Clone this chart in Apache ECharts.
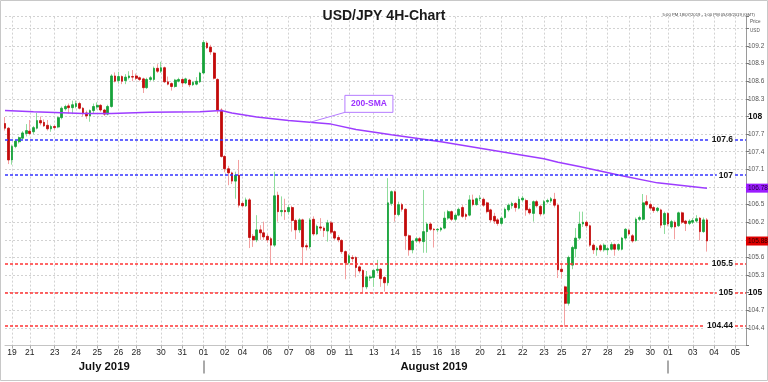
<!DOCTYPE html>
<html><head><meta charset="utf-8">
<script src="https://cdn.jsdelivr.net/npm/echarts@6/dist/echarts.min.js"></script>
<style>html,body{margin:0;padding:0;background:#fff}#c{width:768px;height:382px}</style>
</head><body><div id="c"></div>
<script>
// ---------------- data ----------------
const titleText = 'USD/JPY 4H-Chart';
const rangeText = '5:00 PM 18/07/2019 - 1:00 PM 05/09/2019 (GMT)';
const firstDayHours = [17, 21];
const lastDayHours = [1, 5, 9, 13];
const weekdayHours = [1, 5, 9, 13, 17, 21];
const fridayHours = [1, 5, 9, 13, 17];
const sundayHours = [21];
const tickDates = ['07-19','07-21','07-23','07-24','07-25','07-26','07-28','07-30','07-31','08-01','08-02','08-04','08-06','08-07','08-08','08-09','08-11','08-13','08-14','08-15','08-16','08-18','08-20','08-21','08-22','08-23','08-25','08-27','08-28','08-29','08-30','09-01','09-03','09-04','09-05'];
const monthNames = {'07': 'July 2019', '08': 'August 2019'};
const hiddenYLabels = [104.1, 105.9, 106.8, 109.5, 109.7];
const boldYLabels = [108, 105];
// [open, close, low, high]
const candles = [
[107.88,107.80,107.76,107.99],[107.80,107.26,107.19,107.82],[107.26,107.49,107.18,107.52],[107.49,107.58,107.46,107.60],
[107.57,107.64,107.54,107.66],[107.63,107.72,107.60,107.75],[107.71,107.76,107.66,107.87],[107.75,107.71,107.68,107.94],
[107.74,107.81,107.70,107.84],[107.80,107.93,107.78,108.06],[107.93,107.89,107.85,108.00],[107.90,107.84,107.82,107.95],
[107.85,107.79,107.76,107.94],[107.79,107.83,107.74,107.86],[107.83,107.81,107.78,107.86],[107.82,107.98,107.80,108.00],
[107.98,108.14,107.95,108.17],[108.13,108.17,108.10,108.20],[108.18,108.15,108.05,108.22],[108.15,108.20,108.04,108.27],
[108.17,108.22,108.14,108.27],[108.22,108.14,108.12,108.25],[108.14,108.05,108.00,108.16],[108.06,108.01,107.96,108.10],
[108.01,108.10,107.91,108.12],[108.10,108.17,108.06,108.22],[108.16,108.19,108.12,108.24],[108.19,108.11,108.08,108.21],
[108.11,108.04,108.01,108.13],[108.04,108.17,108.02,108.20],[108.17,108.69,108.15,108.72],[108.69,108.60,108.58,108.75],
[108.61,108.68,108.56,108.76],[108.68,108.60,108.55,108.70],[108.61,108.67,108.55,108.72],[108.66,108.69,108.63,108.77],
[108.68,108.67,108.60,108.79],[108.69,108.65,108.62,108.73],[108.66,108.63,108.60,108.68],[108.64,108.49,108.40,108.66],
[108.49,108.63,108.47,108.66],[108.63,108.66,108.60,108.69],[108.63,108.82,108.60,108.85],[108.82,108.77,108.74,108.89],
[108.77,108.83,108.74,108.93],[108.83,108.59,108.57,108.85],[108.59,108.55,108.53,108.68],[108.56,108.51,108.44,108.58],
[108.51,108.62,108.49,108.64],[108.60,108.63,108.58,108.66],[108.63,108.57,108.50,108.65],[108.57,108.64,108.55,108.66],
[108.62,108.54,108.50,108.64],[108.54,108.58,108.52,108.60],[108.55,108.60,108.53,108.67],[108.59,108.74,108.57,108.76],
[108.74,109.26,108.72,109.30],[109.25,109.17,109.15,109.28],[109.18,109.10,109.05,109.22],[109.08,108.65,108.63,109.10],
[108.63,108.11,108.05,108.65],[108.11,107.32,107.30,108.14],[107.32,107.11,107.05,107.34],[107.11,107.04,106.83,107.16],
[107.04,106.90,106.85,107.06],[106.90,107.00,106.60,107.06],[107.00,106.49,106.45,107.26],[106.52,106.48,106.45,106.55],
[106.48,106.58,106.46,106.62],[106.58,105.94,105.76,106.61],[105.96,105.90,105.78,106.00],[105.90,106.07,105.86,106.32],
[106.07,106.02,105.90,106.15],[106.02,105.95,105.90,106.21],[105.96,105.90,105.85,106.00],[105.92,105.81,105.50,105.95],
[105.81,106.65,105.78,107.06],[106.66,106.38,106.21,106.72],[106.38,106.40,106.30,106.64],[106.40,106.38,106.24,106.60],
[106.38,106.45,106.33,106.50],[106.45,106.23,106.04,106.48],[106.23,106.07,105.91,106.26],[106.07,106.24,106.02,106.27],
[106.24,105.78,105.47,106.26],[105.80,105.78,105.72,105.84],[105.78,106.24,105.75,106.27],[106.25,106.00,105.97,106.30],
[106.00,106.13,105.98,106.16],[106.12,106.10,106.05,106.27],[106.10,106.06,105.95,106.13],[106.05,106.19,105.87,106.24],
[106.19,106.03,106.00,106.22],[106.04,105.93,105.90,106.06],[105.94,105.90,105.86,105.98],[105.89,105.70,105.66,105.91],
[105.70,105.51,105.23,105.72],[105.51,105.63,105.48,105.66],[105.60,105.58,105.52,105.64],[105.60,105.43,105.26,105.62],
[105.44,105.37,105.33,105.46],[105.38,105.10,105.00,105.40],[105.10,105.27,105.06,105.37],[105.25,105.27,105.20,105.30],
[105.26,105.38,105.10,105.40],[105.38,105.40,105.33,105.56],[105.40,105.24,105.10,105.42],[105.26,105.17,105.02,105.28],
[105.17,106.53,105.12,106.95],[106.52,106.72,106.48,106.74],[106.72,106.33,106.21,106.74],[106.33,106.50,106.30,106.55],
[106.50,106.42,106.38,106.53],[106.42,105.97,105.73,106.44],[105.97,105.73,105.63,105.99],[105.73,105.88,105.67,105.90],
[105.88,105.92,105.85,105.95],[105.92,105.88,105.84,105.95],[105.87,106.04,105.68,106.75],[106.04,106.17,105.68,106.20],
[106.17,106.08,106.05,106.20],[106.08,106.07,105.77,106.10],[106.07,106.08,106.03,106.10],[106.07,106.10,106.04,106.12],
[106.10,106.27,106.08,106.38],[106.27,106.38,106.24,106.41],[106.38,106.25,106.22,106.40],[106.25,106.32,106.22,106.35],
[106.32,106.42,106.30,106.45],[106.45,106.30,106.27,106.49],[106.33,106.30,106.24,106.36],[106.32,106.58,106.30,106.66],
[106.58,106.50,106.47,106.67],[106.50,106.60,106.48,106.62],[106.60,106.61,106.56,106.66],[106.59,106.49,106.46,106.62],
[106.53,106.38,106.35,106.55],[106.41,106.24,106.20,106.43],[106.30,106.22,106.17,106.36],[106.24,106.18,106.14,106.27],
[106.18,106.27,106.15,106.30],[106.28,106.42,106.26,106.45],[106.41,106.49,106.38,106.52],[106.48,106.52,106.43,106.55],
[106.52,106.45,106.38,106.54],[106.44,106.59,106.42,106.64],[106.58,106.61,106.55,106.65],[106.57,106.41,106.31,106.60],
[106.42,106.36,106.33,106.45],[106.35,106.55,106.21,106.57],[106.55,106.48,106.45,106.58],[106.47,106.34,106.30,106.50],
[106.35,106.55,106.32,106.58],[106.55,106.57,106.52,106.60],[106.56,106.60,106.53,106.63],[106.59,106.49,106.45,106.70],
[106.49,105.39,105.25,106.52],[105.40,105.36,105.24,105.50],[105.10,104.82,104.42,105.12],[104.82,105.60,104.78,105.63],
[105.47,105.77,105.40,105.80],[105.75,105.93,105.60,106.10],[105.93,106.17,105.90,106.38],[106.17,106.20,106.12,106.38],
[106.20,106.14,106.10,106.23],[106.14,105.81,105.78,106.16],[105.81,105.73,105.66,105.84],[105.73,105.76,105.63,105.79],
[105.80,105.73,105.70,105.83],[105.73,105.81,105.70,105.84],[105.73,105.75,105.64,105.78],[105.74,105.82,105.72,105.86],
[105.82,105.74,105.63,105.84],[105.74,105.82,105.71,105.84],[105.74,105.93,105.72,105.95],[105.93,106.08,105.90,106.10],
[106.06,106.00,105.97,106.09],[105.97,105.88,105.85,106.00],[105.89,106.25,105.87,106.28],[106.25,106.28,106.22,106.31],
[106.25,106.53,106.23,106.68],[106.55,106.50,106.47,106.66],[106.50,106.44,106.40,106.53],[106.45,106.40,106.36,106.48],
[106.40,106.44,106.37,106.46],[106.41,106.15,106.10,106.43],[106.16,106.35,106.00,106.38],[106.35,106.17,106.13,106.37],
[106.12,106.21,106.09,106.24],[106.20,106.12,105.91,106.23],[106.14,106.36,106.12,106.38],[106.36,106.20,106.17,106.38],
[106.22,106.18,106.05,106.24],[106.18,106.22,106.15,106.25],[106.20,106.23,106.17,106.27],[106.22,106.26,106.19,106.32],
[106.27,106.04,105.89,106.29],[106.04,106.24,106.02,106.28],[106.24,105.88,105.70,106.27]
];
const smaBars = [0, 8, 22, 30, 41, 55, 61, 64, 71, 80, 92, 99, 109, 123, 137, 152, 156, 162, 174, 184, 198];
const smaValues = [108.10, 108.08, 108.05, 108.05, 108.07, 108.08, 108.10, 108.06, 107.99, 107.93, 107.87, 107.78, 107.69, 107.57, 107.43, 107.28, 107.22, 107.15, 106.99, 106.87, 106.78];
const smaNote = {text: '200-SMA', bar: 86, value: 107.90};
const resistanceLevels = [107.6, 107];
const supportLevels = [105.5, 105, 104.44];

// ---------------- build ----------------
const FONT = '"Liberation Sans", Arial, sans-serif';
function buildBars() {
  const out = [];
  const start = Date.UTC(2019, 6, 18), end = Date.UTC(2019, 8, 5);
  for (let t = start; t <= end; t += 86400000) {
    const d = new Date(t), wd = d.getUTCDay();
    const key = String(d.getUTCMonth() + 1).padStart(2, '0') + '-' + String(d.getUTCDate()).padStart(2, '0');
    let hrs;
    if (t === start) hrs = firstDayHours;
    else if (t === end) hrs = lastDayHours;
    else if (wd === 6) hrs = [];
    else if (wd === 0) hrs = sundayHours;
    else if (wd === 5) hrs = fridayHours;
    else hrs = weekdayHours;
    hrs.forEach(h => out.push(key + ' ' + String(h).padStart(2, '0')));
  }
  return out;
}
const categories = buildBars();
const dayOf = i => categories[i].slice(0, 5);
const monthOf = i => categories[i].slice(0, 2);
const isDayStart = i => i === 0 || dayOf(i) !== dayOf(i - 1);
const showDay = i => isDayStart(i) && tickDates.includes(dayOf(i));
const isMonthStart = i => i > 0 && monthOf(i) !== monthOf(i - 1);
const monthRanges = {};
categories.forEach((c, i) => { const m = monthOf(i); if (!monthRanges[m]) monthRanges[m] = [i, i]; monthRanges[m][1] = i; });
const monthLabelIdx = Object.keys(monthNames).filter(m => monthRanges[m]).map(m => Math.round((monthRanges[m][0] + monthRanges[m][1]) / 2));

const lastClose = candles[candles.length - 1][1];
const lastSma = smaValues[smaValues.length - 1];
const bodies = candles.map(c => [c[0], c[1], Math.min(c[0], c[1]), Math.max(c[0], c[1])]);
const smaData = smaBars.map((b, k) => [b, smaValues[k]]);

const UP = '#17a23a', DOWN = '#c20a0a', WICK_UP = '#8fdc9c', WICK_DOWN = '#f3a0a0';
const BLUE = '#3535ff', RED = '#ff3535';
const GRID_LINE = {color: '#d2d2d2', type: [2, 2], width: 1};
const levelLabel = {show: true, position: 'insideEnd', distance: 11, fontSize: 8.5, fontWeight: 'bold', color: '#111', backgroundColor: '#fff', padding: [0, 2], fontFamily: FONT, formatter: p => String(p.value)};
const tagLabel = (bg, fg) => ({show: true, position: 'end', distance: 0, fontSize: 6.5, color: fg, backgroundColor: bg, padding: [1, 2], fontFamily: FONT, formatter: p => Number(p.value).toFixed(2)});

function levelSeries(name, values, color) {
  return {
    name, type: 'line', data: [], silent: true, z: 5,
    markLine: {
      silent: true, symbol: 'none', animation: false,
      lineStyle: {color, type: [3, 2], width: 1.5},
      label: levelLabel,
      data: values.map(v => ({yAxis: v}))
    }
  };
}
function tagSeries(name, value, bg, fg) {
  return {
    name, type: 'line', data: [], silent: true, z: 6,
    markLine: {
      silent: true, symbol: 'none', animation: false,
      lineStyle: {color: 'rgba(0,0,0,0)', width: 0},
      label: tagLabel(bg, fg),
      data: [{yAxis: value}]
    }
  };
}

const chart = echarts.init(document.getElementById('c'), null, {renderer: 'canvas'});
const option = {
  animation: false,
  backgroundColor: '#fff',
  textStyle: {fontFamily: FONT},
  title: {text: titleText, left: 'center', top: 4, textStyle: {fontFamily: FONT, fontSize: 14, fontWeight: 'bold', color: '#1a1a1a'}},
  grid: {left: 5, width: 741, top: 16.6, height: 329},
  xAxis: [{
    type: 'category', data: categories, boundaryGap: false,
    axisLine: {show: true, lineStyle: {color: '#c4c4c4'}},
    axisTick: {show: true, interval: showDay, length: 3, lineStyle: {color: '#aaa'}},
    axisLabel: {interval: showDay, formatter: v => v.slice(3, 5), fontSize: 8.5, color: '#222', margin: 3, fontFamily: FONT},
    splitLine: {show: true, interval: showDay, lineStyle: GRID_LINE}
  }, {
    type: 'category', data: categories, boundaryGap: false, position: 'bottom', offset: 15,
    axisLine: {show: false},
    axisTick: {show: true, interval: isMonthStart, length: 13, lineStyle: {color: '#aaa', width: 2}},
    axisLabel: {interval: i => monthLabelIdx.includes(i), formatter: v => monthNames[v.slice(0, 2)] || '', fontSize: 11.3, fontWeight: 'bold', color: '#111', margin: 1, fontFamily: FONT},
    splitLine: {show: false}
  }],
  yAxis: {
    type: 'value', position: 'right', min: 104.1, max: 109.7, interval: 0.3,
    axisLine: {show: true, lineStyle: {color: '#9a9a9a'}},
    axisTick: {show: true, length: 3, lineStyle: {color: '#777'}},
    axisLabel: {
      margin: 2, fontSize: 6.5, color: '#555', fontFamily: FONT,
      formatter: v => {
        const r = Math.round(v * 100) / 100;
        if (hiddenYLabels.some(h => Math.abs(h - r) < 1e-6)) return '';
        if (boldYLabels.some(h => Math.abs(h - r) < 1e-6)) return '{b|' + r + '}';
        return String(r);
      },
      rich: {b: {fontSize: 8.5, fontWeight: 'bold', color: '#111', fontFamily: FONT}}
    },
    splitLine: {show: true, lineStyle: GRID_LINE}
  },
  series: [{
    name: 'wicks', type: 'candlestick', data: candles, barWidth: 1, z: 2, silent: true,
    itemStyle: {color: WICK_UP, color0: WICK_DOWN, borderColor: WICK_UP, borderColor0: WICK_DOWN, borderWidth: 1}
  }, {
    name: 'bodies', type: 'candlestick', data: bodies, barWidth: 2.2, z: 3, silent: true,
    itemStyle: {color: UP, color0: DOWN, borderColor: UP, borderColor0: DOWN, borderWidth: 0.8}
  }, {
    name: '200-SMA', type: 'line', data: smaData, showSymbol: false, z: 4, silent: true,
    lineStyle: {color: '#9d3cff', width: 1.5}
  },
  levelSeries('resistance', resistanceLevels, BLUE),
  levelSeries('support', supportLevels, RED),
  tagSeries('lastClose', lastClose, '#e00000', '#2a0000'),
  tagSeries('lastSma', lastSma, '#9b1cff', '#22003a')
  ]
};
chart.setOption(option);

const [ax, ay] = chart.convertToPixel({xAxisIndex: 0, yAxisIndex: 0}, [smaNote.bar, smaNote.value]);
chart.setOption({
  graphic: [
    {type: 'rect', shape: {x: 0.5, y: 0.5, width: 767, height: 380}, style: {fill: 'none', stroke: '#c8c8c8', lineWidth: 1}, silent: true, z: 0},
    {type: 'text', right: 13, top: 13, style: {text: rangeText, fontSize: 4.2, fill: '#444', fontFamily: FONT}, silent: true},
    {type: 'text', left: 750, top: 17, style: {text: 'Price\nUSD', fontSize: 4.6, lineHeight: 9, fill: '#555', fontFamily: FONT}, silent: true},
    {type: 'line', shape: {x1: ax, y1: ay, x2: ax + 35, y2: ay - 10}, style: {stroke: '#b57cff', lineWidth: 1}, z: 10, silent: true},
    {type: 'rect', shape: {x: ax + 35, y: ay - 27, width: 48, height: 17}, style: {fill: '#fff', stroke: '#b57cff', lineWidth: 1}, z: 10, silent: true},
    {type: 'text', x: ax + 59, y: ay - 18.5, style: {text: smaNote.text, align: 'center', verticalAlign: 'middle', fontSize: 8.5, fontWeight: 'bold', fill: '#9b30ff', fontFamily: FONT}, z: 11, silent: true}
  ]
});
</script></body></html>
